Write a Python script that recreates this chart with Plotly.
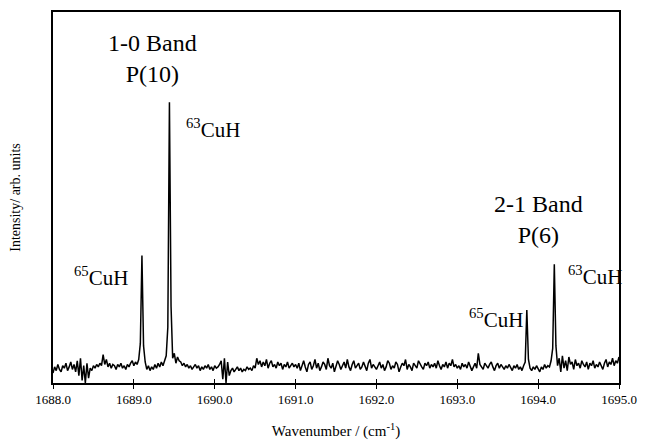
import plotly.graph_objects as go

# ---- data ----
WAVENUMBER_START = 1688.0
WAVENUMBER_STEP = 0.02

seg_a = [8, 13, 10, 15, 11, 9, 14, 12, 16, 10, 13, 17, 11, 15, 9]
seg_b = [18, 6, 20, 2, 14, 0, 16, 4]
seg_c = [12, 10, 14, 12, 15, 13, 16, 14]
seg_d = [23, 15, 19]
seg_e = [13, 16, 12, 15, 14, 11, 15, 13, 16, 12, 14, 11, 15, 13, 16, 18]
seg_f = [14, 17, 15, 19, 32, 103, 30, 17, 11, 14, 10]          # 65CuH 1-0 P(10)
seg_g = [13, 11, 15, 12, 16, 13, 17, 14, 18]
seg_h = [22, 45, 227, 62, 20, 24, 16, 21, 18]                   # 63CuH 1-0 P(10)
seg_i = [17, 14, 16, 13, 15, 12, 14, 11, 13, 15, 12, 14, 10, 13, 11,
         14, 12, 15, 11, 13, 10, 14, 12, 13, 15]
seg_j = [18, 3, 20, 0, 17, 6]
seg_k = [10, 12, 9, 11, 13, 10, 12, 9, 11, 10, 13, 11, 12, 10, 14, 12]
seg_l = [20, 15, 18, 13, 17, 14, 19, 12, 16, 18, 13, 15, 12, 17, 14,
         16, 11, 15, 13, 17, 12, 14, 16, 13, 15]
seg_m = [12, 16, 10, 14, 18, 13, 9, 15, 17, 11, 14, 19, 12, 16, 10, 13, 17, 15, 11, 20,
         14, 12, 16, 9, 13, 18, 15, 11, 14, 17, 12, 19, 13, 10, 15, 18, 12, 14, 16, 11,
         13, 17, 14, 10, 16, 19, 12, 15, 13, 11]
seg_n = [14, 17, 12, 15, 10, 13, 18, 16, 11, 14, 12, 17, 15, 9, 13, 16, 14, 19, 11, 15,
         13, 10, 16, 14, 12, 18, 15, 13, 11, 16, 14, 17, 12, 15, 13]
seg_o = [16, 12, 18, 14, 11, 15, 13, 17, 12, 16, 14, 19, 13, 15, 12]
seg_p = [14, 11, 16, 13, 15, 12, 17, 14, 10, 13, 16, 12, 24, 15, 13, 11, 16, 14, 12, 15,
         17, 13, 10, 14, 16, 12, 15, 13, 11, 14, 12, 15, 13, 10, 14]
seg_q = [12, 15, 11, 13, 10, 14]
seg_r = [17, 59, 19, 12]                                        # 65CuH 2-1 P(6)
seg_s = [10, 13, 11, 14, 12, 9, 13, 11, 15, 12, 14, 13, 18]
seg_t = [28, 96, 30, 14]                                        # 63CuH 2-1 P(6)
seg_u = [20, 9, 22, 12, 18, 10, 21, 15, 17, 11, 19, 14, 16, 12, 18, 15, 13, 17, 11, 16,
         14, 18, 12, 15, 13, 17, 14, 11, 16, 19, 13, 17, 15, 20, 14, 18, 16, 21]

intensity = (seg_a + seg_b + seg_c + seg_d + seg_e + seg_f + seg_g + seg_h + seg_i +
             seg_j + seg_k + seg_l + seg_m + seg_n + seg_o + seg_p + seg_q + seg_r +
             seg_s + seg_t + seg_u)
wavenumber = [round(WAVENUMBER_START + WAVENUMBER_STEP * i, 2) for i in range(len(intensity))]

tick_values = [1688, 1689, 1690, 1691, 1692, 1693, 1694, 1695]
tick_labels = ["1688.0", "1689.0", "1690.0", "1691.0", "1692.0", "1693.0", "1694.0", "1695.0"]

FONT = "Liberation Serif, Times New Roman, serif"

fig = go.Figure()
fig.add_trace(go.Scatter(x=wavenumber, y=intensity, mode="lines",
                         line=dict(color="black", width=1.5), showlegend=False,
                         hoverinfo="skip"))
# invisible twin trace to carry inward ticks
fig.add_trace(go.Scatter(x=wavenumber, y=intensity, mode="lines", xaxis="x2",
                         line=dict(color="rgba(0,0,0,0)", width=0), showlegend=False,
                         hoverinfo="skip"))

fig.update_layout(
    width=647, height=447,
    margin=dict(l=53, r=21, t=10, b=60),
    paper_bgcolor="white", plot_bgcolor="white",
    font=dict(family=FONT, color="black"),
    xaxis=dict(range=[1688, 1695], tickvals=tick_values, ticktext=tick_labels,
               ticks="outside", ticklen=4, tickwidth=1.3, tickcolor="black",
               showline=True, linecolor="black", linewidth=1.5, mirror=True,
               showgrid=False, zeroline=False,
               tickfont=dict(family=FONT, size=13, color="black"),
               title=dict(text="Wavenumber / (cm<sup>-1</sup>)",
                          font=dict(family=FONT, size=15, color="black"), standoff=19)),
    xaxis2=dict(range=[1688, 1695], overlaying="x", side="bottom", tickvals=tick_values,
                ticks="inside", ticklen=4, tickwidth=1.3, tickcolor="black",
                showticklabels=False, showline=False, showgrid=False, zeroline=False),
    yaxis=dict(range=[0, 300], showticklabels=False, ticks="",
               showline=True, linecolor="black", linewidth=1.5, mirror=True,
               showgrid=False, zeroline=False,
               title=dict(text="Intensity/ arb. units",
                          font=dict(family=FONT, size=14, color="black"), standoff=27)),
)

ann_font_big = dict(family=FONT, size=24, color="black")
ann_font = dict(family=FONT, size=21, color="black")
fig.add_annotation(x=1689.23, y=262, text="1-0 Band<br>P(10)", showarrow=False,
                   font=ann_font_big, align="center", xanchor="center", yanchor="middle")
fig.add_annotation(x=1694.01, y=132.5, text="2-1 Band<br>P(6)", showarrow=False,
                   font=ann_font_big, align="center", xanchor="center", yanchor="middle")
fig.add_annotation(x=1689.625, y=206, text="<sup>63</sup>CuH", showarrow=False,
                   font=ann_font, xanchor="left", yanchor="middle")
fig.add_annotation(x=1688.235, y=86, text="<sup>65</sup>CuH", showarrow=False,
                   font=ann_font, xanchor="left", yanchor="middle")
fig.add_annotation(x=1693.125, y=52.5, text="<sup>65</sup>CuH", showarrow=False,
                   font=ann_font, xanchor="left", yanchor="middle")
fig.add_annotation(x=1694.34, y=87, text="<sup>63</sup>CuH", showarrow=False,
                   font=ann_font, xanchor="left", yanchor="middle")

fig.write_html("out.html")
